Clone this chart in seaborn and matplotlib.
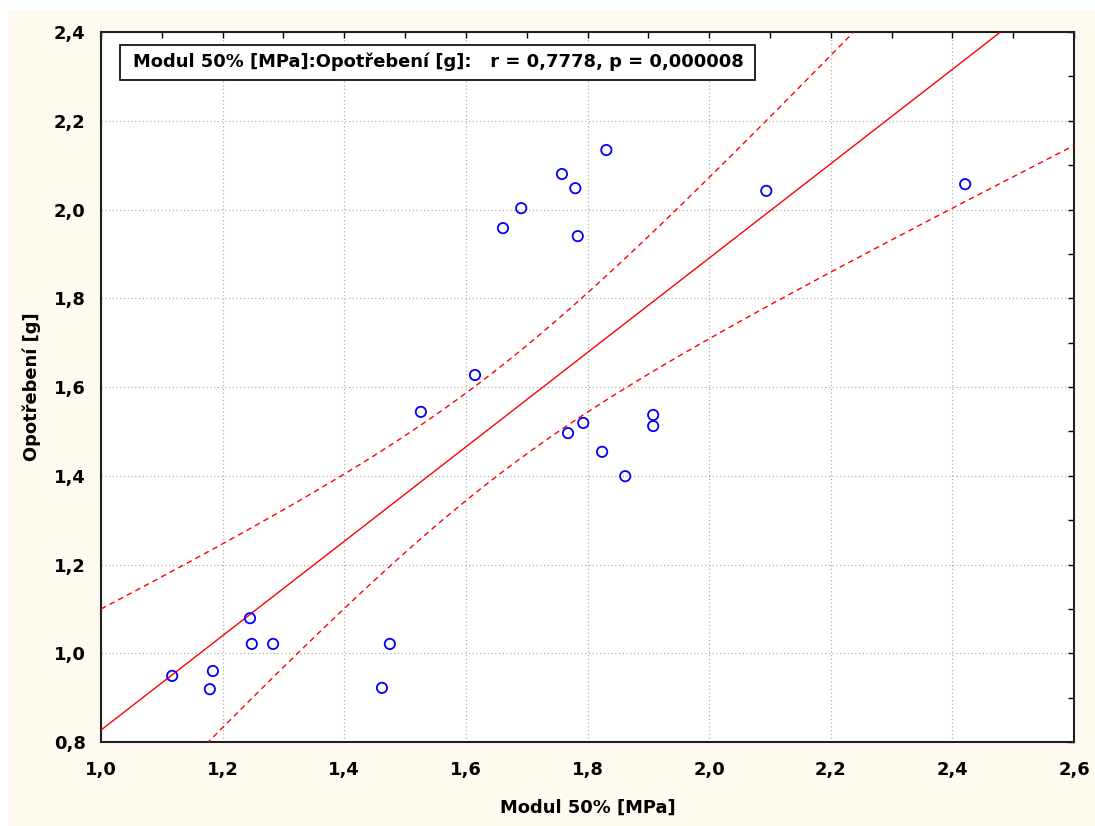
import numpy as np
import pandas as pd
import matplotlib
matplotlib.use("Agg")
import matplotlib.pyplot as plt
from matplotlib.patches import Rectangle
from matplotlib.ticker import MultipleLocator, FuncFormatter
import seaborn as sns

# ---- data ----
modul = [1.117, 1.184, 1.179, 1.245, 1.248, 1.283, 1.475, 1.462, 1.526, 1.615,
         1.661, 1.691, 1.758, 1.780, 1.784, 1.831, 2.094, 2.421, 1.768, 1.793,
         1.824, 1.862, 1.908, 1.908]
opotrebeni = [0.949, 0.960, 0.919, 1.079, 1.021, 1.021, 1.021, 0.922, 1.544, 1.627,
              1.958, 2.003, 2.080, 2.048, 1.940, 2.134, 2.042, 2.057, 1.496, 1.519,
              1.454, 1.399, 1.537, 1.512]
x_label = "Modul 50% [MPa]"
y_label = "Opotřebení [g]"
title_text = "Modul 50% [MPa]:Opotřebení [g]:   r = 0,7778, p = 0,000008"
x_ticks = [1.0, 1.2, 1.4, 1.6, 1.8, 2.0, 2.2, 2.4, 2.6]
y_ticks = [0.8, 1.0, 1.2, 1.4, 1.6, 1.8, 2.0, 2.2, 2.4]

df = pd.DataFrame({"x": modul, "y": opotrebeni})

# ---- regression with 95% confidence band ----
x = np.asarray(modul)
y = np.asarray(opotrebeni)
n = len(x)
slope, intercept = np.polyfit(x, y, 1)
resid = y - (intercept + slope * x)
s = np.sqrt(np.sum(resid ** 2) / (n - 2))
sxx = np.sum((x - x.mean()) ** 2)
t_crit = 2.0739  # t(0.975, 22)
grid = np.linspace(x_ticks[0], x_ticks[-1], 400)
fit = intercept + slope * grid
half = t_crit * s * np.sqrt(1.0 / n + (grid - x.mean()) ** 2 / sxx)
fit_df = pd.DataFrame({"x": grid, "fit": fit, "lo": fit - half, "hi": fit + half})

# ---- figure ----
sns.set_style("white")
plt.rcParams["font.family"] = ["DejaVu Sans"]
plt.rcParams["font.weight"] = "bold"
for k in ("text.color", "axes.labelcolor", "xtick.color", "ytick.color"):
    plt.rcParams[k] = "black"
FS = 12.9

fig = plt.figure(figsize=(10.95, 8.26), dpi=100, facecolor="white")
fig.patches.append(Rectangle((8 / 1095, 0), 1 - 8 / 1095, 1 - 10 / 826,
                             transform=fig.transFigure, facecolor="#FFFAF0",
                             edgecolor="none", zorder=-10))
ax = fig.add_axes([101 / 1095, 1 - 742 / 826, (1074 - 101) / 1095, (742 - 32) / 826])
ax.set_facecolor("white")

sns.lineplot(data=fit_df, x="x", y="fit", ax=ax, color="#FF0000", lw=1.0,
             estimator=None, zorder=3)
sns.lineplot(data=fit_df, x="x", y="lo", ax=ax, color="#FF0000", lw=1.0,
             estimator=None, zorder=3, dashes=False, linestyle=(0, (4, 3)))
sns.lineplot(data=fit_df, x="x", y="hi", ax=ax, color="#FF0000", lw=1.0,
             estimator=None, zorder=3, dashes=False, linestyle=(0, (4, 3)))
sns.scatterplot(data=df, x="x", y="y", ax=ax, marker="o", s=55,
                facecolor="none", edgecolor="#0000FF", linewidth=1.3, zorder=4)

ax.set_xlim(x_ticks[0], x_ticks[-1])
ax.set_ylim(y_ticks[0], y_ticks[-1])
ax.set_xticks(x_ticks)
ax.set_yticks(y_ticks)
ax.xaxis.set_minor_locator(MultipleLocator(0.1))
ax.yaxis.set_minor_locator(MultipleLocator(0.1))
fmt = FuncFormatter(lambda v, p: f"{v:.1f}".replace(".", ","))
ax.xaxis.set_major_formatter(fmt)
ax.yaxis.set_major_formatter(fmt)
ax.tick_params(which="both", direction="in", top=True, right=True,
               length=4, width=1, color="black", labelcolor="black", labelsize=FS)
ax.tick_params(axis="x", which="major", pad=14)
ax.tick_params(axis="y", which="major", pad=11)
for lab in ax.get_xticklabels() + ax.get_yticklabels():
    lab.set_fontweight("bold")
ax.grid(True, which="major", linestyle=(0, (1, 2)), color="#B0B0B0", lw=0.9)
ax.set_axisbelow(True)
for sp in ax.spines.values():
    sp.set_visible(True)
    sp.set_color("#202020")
    sp.set_linewidth(1.5)

ax.set_xlabel(x_label, fontsize=FS, fontweight="bold", labelpad=14, color="black")
ax.set_ylabel(y_label, fontsize=FS, fontweight="bold", color="black")
ax.yaxis.set_label_coords(-(101 - 41) / 973, 0.5)

# title box
ax.add_patch(Rectangle(((120 - 101) / 973, (742 - 80) / 710),
                       (755 - 120) / 973, (80 - 45) / 710,
                       transform=ax.transAxes, facecolor="white",
                       edgecolor="black", lw=1.2, zorder=6))
ax.text((133 - 101) / 973, (742 - 62) / 710, title_text, transform=ax.transAxes,
        ha="left", va="center", fontsize=FS, fontweight="bold", color="black",
        zorder=7)

fig.savefig("out.png", dpi=100, facecolor=fig.get_facecolor())
